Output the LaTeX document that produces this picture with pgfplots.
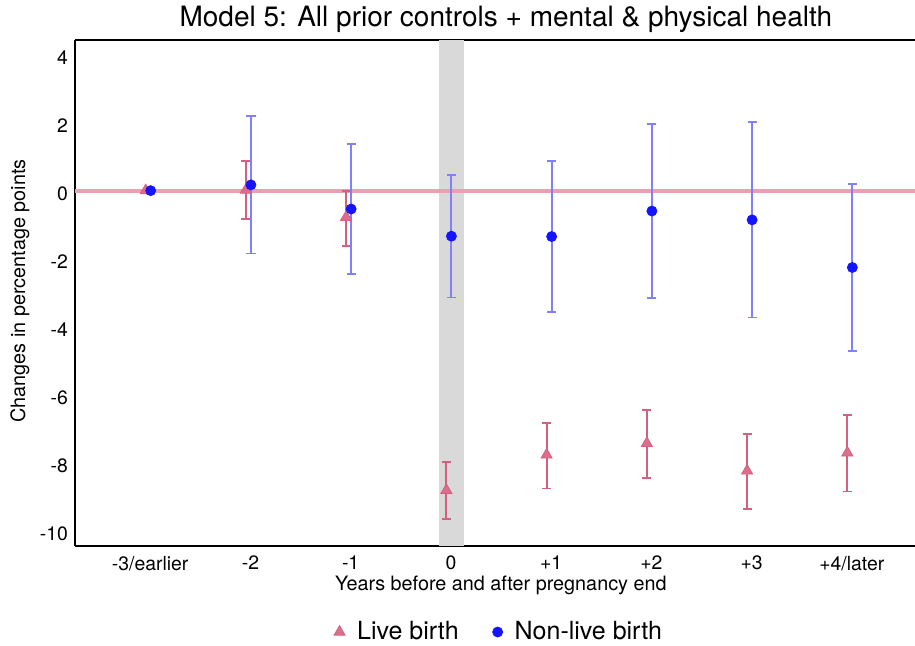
\documentclass[border=0pt]{standalone}
\usepackage{fontspec}
\setmainfont{TeX Gyre Heros}
\usepackage{pgfplots}
\pgfplotsset{compat=1.18}
\definecolor{bandgray}{HTML}{D9D9D9}
\definecolor{refpink}{HTML}{E8A1B1}
\definecolor{livebar}{HTML}{D4607F}
\definecolor{livefill}{HTML}{DC6E8B}
\definecolor{nlbar}{HTML}{8080FF}
\definecolor{nlfill}{HTML}{1414FF}

\begin{document}
\begin{tikzpicture}
\begin{axis}[name=ax, scale only axis, width=420pt, height=253pt,
  xmin=-0.75, xmax=7.63, ymin=-10.35, ymax=4.53,
  axis x line=box, axis y line=left, axis line style={-, line width=1pt},
  major tick length=0pt,
  xtick={0,...,7},
  xticklabels={-3/earlier,-2,-1,0,+1,+2,+3,+4/later},
  ytick={-10,-8,...,4},
  /pgf/number format/assume math mode=true,
  tick label style={font=\fontsize{9.7}{11}\selectfont},
  xticklabel style={yshift=-1.5pt},
  xlabel={Years before and after pregnancy end},
  ylabel={Changes in percentage points},
  label style={font=\fontsize{9.9}{11}\selectfont},
  xlabel style={at={([yshift=-19.5pt]axis description cs:0.507,0)}, anchor=center},
  ylabel style={at={([xshift=-27.5pt]axis description cs:0,0.504)}, anchor=center, rotate=0},
  every axis title shift=0pt,
  title={Model 5: All prior controls + mental \& physical health},
  title style={at={([yshift=10.5pt]axis description cs:0.513,1)}, anchor=center,
               font=\fontsize{14}{16}\selectfont},
  legend style={at={(0.506,-0.17)}, anchor=center, draw=none, fill=none,
                legend columns=2, font=\fontsize{12.5}{14}\selectfont,
                /tikz/every odd column/.append style={column sep=4pt},
                /tikz/every even column/.append style={column sep=15pt}},
  legend cell align=left,
]
% shaded pregnancy-end year
\addplot[draw=none, fill=bandgray, forget plot] coordinates {(2.88,-10.35) (3.13,-10.35) (3.13,4.53) (2.88,4.53)} -- cycle;
% reference line
\addplot[refpink, line width=2pt, forget plot] coordinates {(-0.75,0.1) (7.63,0.1)};

% live birth
\addplot[only marks, mark=triangle*, mark size=3.2pt, color=livebar,
  mark options={fill=livefill, draw=livebar},
  error bars/.cd, y dir=both, y explicit,
  error bar style={livebar, line width=0.9pt},
  error mark options={rotate=90, mark size=2.3pt, livebar, line width=0.9pt}]
coordinates {
 (0.955,0.12)  += (0,0.84) -= (0,0.86)
 (1.955,-0.68) += (0,0.78) -= (0,0.84)
 (2.955,-8.71) += (0,0.84) -= (0,0.85)
 (3.955,-7.67) += (0,0.93) -= (0,0.99)
 (4.955,-7.33) += (0,0.99) -= (0,1.02)
 (5.955,-8.14) += (0,1.08) -= (0,1.12)
 (6.955,-7.61) += (0,1.12) -= (0,1.14)
};
\addlegendentry{Live birth}
\addplot[only marks, mark=triangle*, mark size=3.2pt, color=livebar,
  mark options={fill=livefill, draw=livebar}, forget plot]
coordinates {(-0.045,0.1)};

% non-live birth
\addplot[only marks, mark=*, mark size=2.5pt, color=nlbar,
  mark options={fill=nlfill, draw=nlfill},
  error bars/.cd, y dir=both, y explicit,
  error bar style={nlbar, line width=0.9pt},
  error mark options={rotate=90, mark size=2.3pt, nlbar, line width=0.9pt}]
coordinates {
 (1.005,0.27)  +- (0,2.02)
 (2.005,-0.44) +- (0,1.90)
 (3.005,-1.24) +- (0,1.80)
 (4.005,-1.25) +- (0,2.21)
 (5.005,-0.50) +- (0,2.56)
 (6.005,-0.76) +- (0,2.87)
 (7.005,-2.16) +- (0,2.46)
};
\addlegendentry{Non-live birth}
\addplot[only marks, mark=*, mark size=2.5pt,
  mark options={fill=nlfill, draw=nlfill}, forget plot]
coordinates {(0.005,0.1)};
\end{axis}
\pgfresetboundingbox
\path[use as bounding box] ([xshift=-37.5pt,yshift=-50pt]ax.south west) rectangle ([yshift=20pt]ax.north east);
\end{tikzpicture}
\end{document}
